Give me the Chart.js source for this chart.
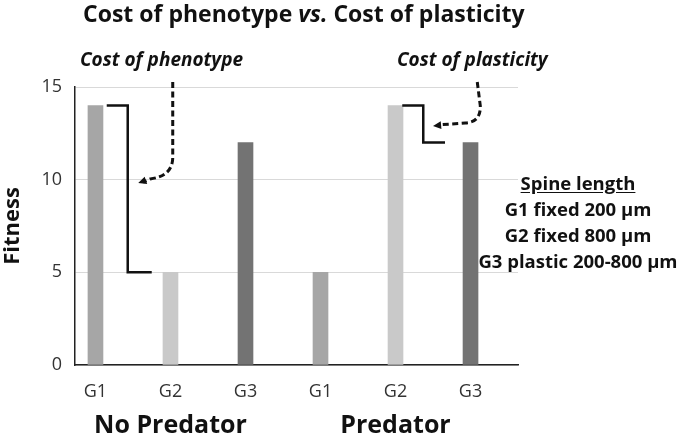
<!DOCTYPE html>
<html>
<head>
<meta charset="utf-8">
<script src="https://cdn.jsdelivr.net/npm/chart.js@4/dist/chart.umd.min.js"></script>
<style>
  body { margin: 0; background: #fff; }
  #wrap { position: relative; width: 681px; height: 439px; overflow: hidden; font-family: 'Open Sans', sans-serif; color: #111; }
  #grafico { position: absolute; left: 0; top: 0; }
  .txt { position: absolute; white-space: nowrap; font-weight: bold; line-height: 1; }
  #titulo { left: 83px; top: 2px; font-size: 23px; }
  .nota { top: 50px; font-size: 19px; font-style: italic; }
  #legenda { position: absolute; left: 458px; top: 170px; width: 240px; text-align: center; font-weight: bold; font-size: 18.5px; line-height: 26px; white-space: nowrap; }
  #legenda u { text-underline-offset: 2px; }
</style>
</head>
<body>
<div id="wrap">
  <canvas id="grafico" width="681" height="439"></canvas>
  <div class="txt" id="titulo">Cost of phenotype <i>vs.</i> Cost of plasticity</div>
  <div class="txt nota" style="left:80px">Cost of phenotype</div>
  <div class="txt nota" style="left:397px">Cost of plasticity</div>
  <div id="legenda">
    <div><u>Spine length</u></div>
    <div>G1 fixed 200 µm</div>
    <div>G2 fixed 800 µm</div>
    <div>G3 plastic 200-800 µm</div>
  </div>
</div>
<script>
// ====== DADOS ======
const grupos = ['No Predator', 'Predator'];
const genotipos = ['G1', 'G2', 'G3'];
const semPredador = [14, 5, 12];
const comPredador = [5, 14, 12];
const yTicks = [0, 5, 10, 15];

// cores por genotipo
const coresGen = ['#a6a6a6', '#c9c9c9', '#737373'];

// ====== MONTAGEM ======
const valores = [semPredador, comPredador];
const barras = [];
const coresBarras = [];
valores.forEach((serie, g) => {
  serie.forEach((v, i) => {
    barras.push({ x: g * 3 + i, y: v });
    coresBarras.push(coresGen[i]);
  });
});
const centrosGrupo = grupos.map((_, g) => g * 3 + 1);

// colchetes (custo) e setas tracejadas, em unidades dos eixos
const colchetes = [
  { x0: 0.15, x1: 0.43, x2: 0.75, yA: semPredador[0], yB: semPredador[1] },
  { x0: 4.09, x1: 4.37, x2: 4.66, yA: comPredador[1], yB: comPredador[2] }
];
const setas = [
  { ini: [1.03, 15.27], meio: [1.03, 11.2], ctrl: [1.03, 10.2], fim: [0.73, 10.04], ponta: [0.57, 9.82] },
  { ini: [5.09, 15.27], meio: [5.13, 14.0], ctrl: [5.14, 13.1], fim: [4.93, 13.06], ponta: [4.5, 12.9] }
];

const pluginAnotacoes = {
  id: 'anotacoes',
  afterDatasetsDraw(chart) {
    const { ctx, scales: { x, y } } = chart;
    const px = p => [x.getPixelForValue(p[0]), y.getPixelForValue(p[1])];
    ctx.save();
    ctx.strokeStyle = '#111';
    ctx.fillStyle = '#111';
    ctx.lineWidth = 2.5;
    ctx.lineJoin = 'miter';
    colchetes.forEach(c => {
      ctx.beginPath();
      ctx.moveTo(x.getPixelForValue(c.x0), y.getPixelForValue(c.yA));
      ctx.lineTo(x.getPixelForValue(c.x1), y.getPixelForValue(c.yA));
      ctx.lineTo(x.getPixelForValue(c.x1), y.getPixelForValue(c.yB));
      ctx.lineTo(x.getPixelForValue(c.x2), y.getPixelForValue(c.yB));
      ctx.stroke();
    });
    setas.forEach(s => {
      const a = px(s.ini), b = px(s.meio), k = px(s.ctrl), f = px(s.fim), t = px(s.ponta);
      ctx.lineWidth = 3;
      ctx.setLineDash([6, 3.5]);
      ctx.beginPath();
      ctx.moveTo(a[0], a[1]);
      ctx.lineTo(b[0], b[1]);
      ctx.quadraticCurveTo(k[0], k[1], f[0], f[1]);
      ctx.lineTo(t[0] + 5, t[1] - 1);
      ctx.stroke();
      ctx.setLineDash([]);
      // ponta da seta
      const ang = Math.atan2(t[1] - f[1], t[0] - f[0]);
      ctx.beginPath();
      ctx.moveTo(t[0], t[1]);
      ctx.lineTo(t[0] - 9 * Math.cos(ang - 0.45), t[1] - 9 * Math.sin(ang - 0.45));
      ctx.lineTo(t[0] - 9 * Math.cos(ang + 0.45), t[1] - 9 * Math.sin(ang + 0.45));
      ctx.closePath();
      ctx.fill();
    });
    ctx.restore();
  }
};

Chart.defaults.font.family = "'Open Sans', sans-serif";

new Chart(document.getElementById('grafico'), {
  type: 'bar',
  data: {
    datasets: [{
      data: barras,
      backgroundColor: coresBarras,
      barThickness: 15
    }]
  },
  options: {
    responsive: false,
    animation: false,
    devicePixelRatio: 1,
    layout: { padding: { left: 0, right: 163, top: 87, bottom: 0 } },
    plugins: { legend: { display: false }, tooltip: { enabled: false } },
    scales: {
      x: {
        type: 'linear',
        position: 'bottom',
        weight: 0,
        offset: false,
        min: -0.273,
        max: 5.633,
        grid: { display: false, drawTicks: false },
        border: { color: '#222', width: 1.5 },
        afterBuildTicks: s => { s.ticks = barras.map(b => ({ value: b.x })); },
        afterFit: s => { s.height = 34; },
        ticks: {
          autoSkip: false,
          maxRotation: 0,
          padding: 16,
          color: '#333',
          font: { size: 18 },
          callback: v => genotipos[Math.round(v) % 3]
        }
      },
      x2: {
        type: 'linear',
        position: 'bottom',
        weight: 1,
        offset: false,
        min: -0.273,
        max: 5.633,
        grid: { display: false, drawTicks: false },
        border: { display: false },
        afterBuildTicks: s => { s.ticks = centrosGrupo.map(v => ({ value: v })); },
        afterFit: s => { s.height = 40; },
        ticks: {
          autoSkip: false,
          maxRotation: 0,
          padding: 12,
          color: '#111',
          font: { size: 25, weight: 'bold' },
          callback: (v, i) => grupos[i]
        }
      },
      y: {
        min: 0,
        max: 15,
        afterBuildTicks: s => { s.ticks = yTicks.map(v => ({ value: v })); },
        afterFit: s => { s.width = 75; },
        grid: { color: '#d9d9d9', lineWidth: 1, drawTicks: false },
        border: { color: '#222', width: 1.5 },
        ticks: { padding: 13, color: '#333', font: { size: 18 } },
        title: {
          display: true,
          text: 'Fitness',
          color: '#111',
          padding: 0,
          font: { size: 22, weight: 'bold' }
        }
      }
    }
  },
  plugins: [pluginAnotacoes]
});
</script>
</body>
</html>
